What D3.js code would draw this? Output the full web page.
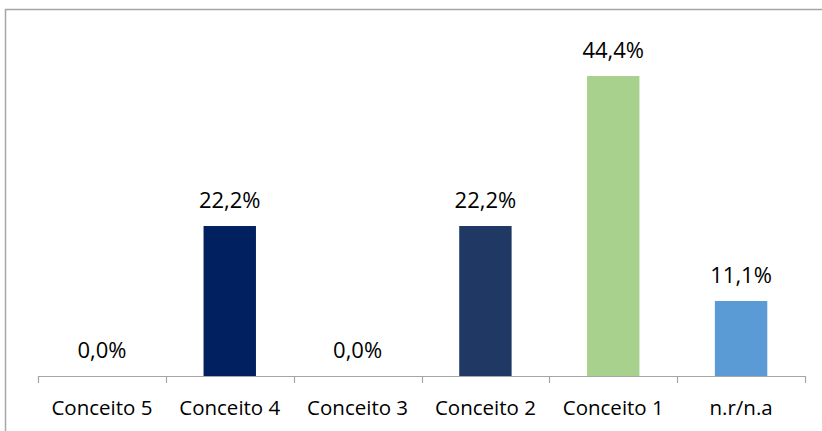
<!DOCTYPE html>
<html><head><meta charset="utf-8">
<script src="https://cdn.jsdelivr.net/npm/d3@7"></script>
<style>html,body{margin:0;padding:0;background:#fff;}svg{display:block;}</style>
</head><body>
<svg id="c" width="822" height="431"></svg>
<script>
const categories = ["Conceito 5","Conceito 4","Conceito 3","Conceito 2","Conceito 1","n.r/n.a"];
const values = [0.0, 22.2, 0.0, 22.2, 44.4, 11.1];
const labels = ["0,0%","22,2%","0,0%","22,2%","44,4%","11,1%"];
const colors = ["#002060","#002060","#1F3864","#203864","#A9D18E","#5B9BD5"];

const svg = d3.select("#c");
const font = "'Open Sans', sans-serif";

svg.append("rect").attr("x",5.5).attr("y",9.5).attr("width",830).attr("height",440)
  .attr("fill","none").attr("stroke","#A6A6A6").attr("stroke-width",1.5);

const x = d3.scaleBand().domain(categories).range([38,805]).paddingInner(0.59).paddingOuter(0.295);
const y = d3.scaleLinear().domain([0,50]).range([376, 38.2]);

svg.selectAll("rect.bar").data(values).enter().append("rect").attr("class","bar")
  .attr("x",(d,i)=>x(categories[i])).attr("width",x.bandwidth())
  .attr("y",d=>y(d)).attr("height",d=>y(0)-y(d))
  .attr("fill",(d,i)=>colors[i]);

svg.selectAll("text.val").data(values).enter().append("text").attr("class","val")
  .attr("x",(d,i)=>x(categories[i])+x.bandwidth()/2).attr("y",d=>y(d)-18)
  .attr("text-anchor","middle").attr("font-family",font).attr("font-size",22).attr("fill","#000")
  .text((d,i)=>labels[i]);

const xa = d3.scalePoint().domain(d3.range(categories.length+1)).range([38,805]);
const g = svg.append("g");
g.append("line").attr("x1",38).attr("x2",805).attr("y1",376.5).attr("y2",376.5).attr("stroke","#A6A6A6").attr("stroke-width",1.2);
g.selectAll("line.t").data(xa.domain()).enter().append("line").attr("class","t")
  .attr("x1",d=>Math.round(xa(d))+0.5).attr("x2",d=>Math.round(xa(d))+0.5).attr("y1",376).attr("y2",383)
  .attr("stroke","#A6A6A6").attr("stroke-width",1.2);

svg.selectAll("text.cat").data(categories).enter().append("text").attr("class","cat")
  .attr("x",d=>x(d)+x.bandwidth()/2).attr("y",415)
  .attr("text-anchor","middle").attr("font-family",font).attr("font-size",20.5).attr("fill","#000")
  .text(d=>d);
</script>
</body></html>
